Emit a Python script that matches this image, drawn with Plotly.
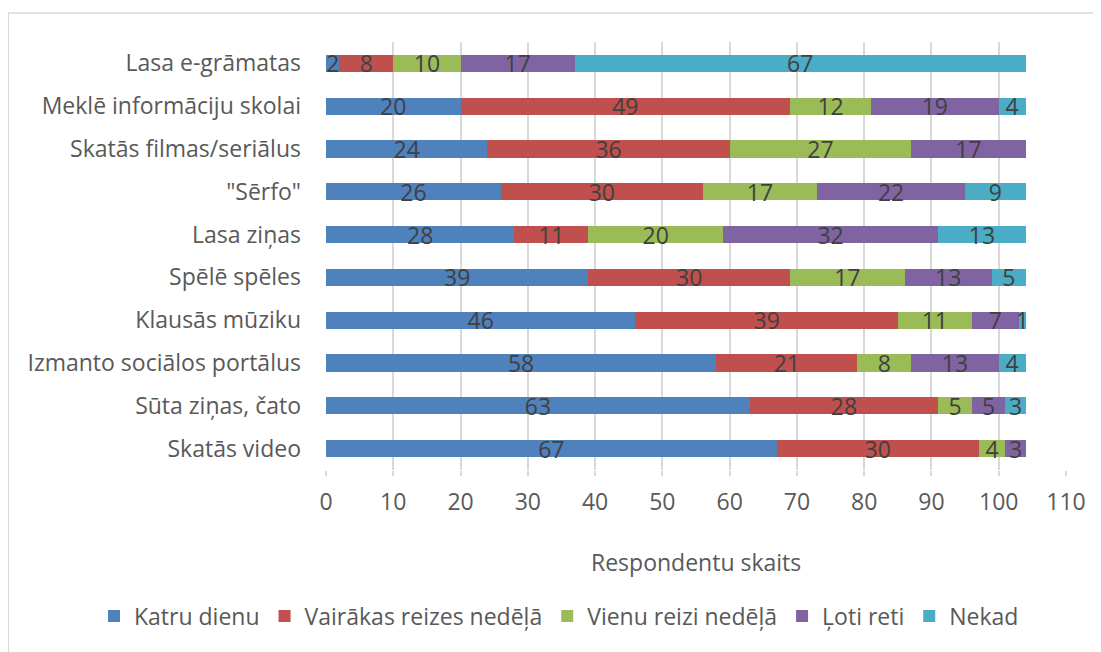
import plotly.graph_objects as go

categories = ["Lasa e-grāmatas", "Meklē informāciju skolai", "Skatās filmas/seriālus",
              "\"Sērfo\"", "Lasa ziņas", "Spēlē spēles", "Klausās mūziku",
              "Izmanto sociālos portālus", "Sūta ziņas, čato", "Skatās video"]
series_names = ["Katru dienu", "Vairākas reizes nedēļā", "Vienu reizi nedēļā", "Ļoti reti", "Nekad"]
katru_dienu = [2, 20, 24, 26, 28, 39, 46, 58, 63, 67]
vairakas_reizes = [8, 49, 36, 30, 11, 30, 39, 21, 28, 30]
vienu_reizi = [10, 12, 27, 17, 20, 17, 11, 8, 5, 4]
loti_reti = [17, 19, 17, 22, 32, 13, 7, 13, 5, 3]
nekad = [67, 4, 0, 9, 13, 5, 1, 4, 3, 0]
x_ticks = [0, 10, 20, 30, 40, 50, 60, 70, 80, 90, 100, 110]

colors = ["#4F81BD", "#C0504D", "#9BBB59", "#8064A2", "#4BACC6"]
values = [katru_dienu, vairakas_reizes, vienu_reizi, loti_reti, nekad]

FONT = "Open Sans"
FS = 23

fig = go.Figure()
for name, vals, col in zip(series_names, values, colors):
    fig.add_trace(go.Bar(
        y=categories, x=vals, name=name, orientation="h",
        marker=dict(color=col, line=dict(width=0)),
        text=[str(v) if v else "" for v in vals],
        textposition="inside", insidetextanchor="middle", textangle=0,
        textfont=dict(family=FONT, size=FS, color="#404040"),
        constraintext="none",
    ))

# page body offset of 8px is compensated for
OFF = 8
W, H = 1101, 652
L = 326 - OFF
T = 41.5 - OFF
R = W - (1066 - OFF)
B = H - (470.5 - OFF)
pw = W - L - R
ph = H - T - B

def px_x(p):
    return (p - OFF - L) / pw

def px_y(p):
    return (H - B - (p - OFF)) / ph

fig.update_layout(
    width=W, height=H,
    barmode="stack", bargap=0.6,
    margin=dict(l=L, r=R, t=T, b=B, autoexpand=False),
    paper_bgcolor="white", plot_bgcolor="white",
    font=dict(family=FONT, size=FS, color="#595959"),
    uniformtext=dict(minsize=FS, mode="show"),
    showlegend=True,
    legend=dict(orientation="h", x=px_x(94), xanchor="left", y=px_y(617), yanchor="middle",
                font=dict(family=FONT, size=FS, color="#595959"), traceorder="normal",
                itemwidth=30, bgcolor="rgba(0,0,0,0)"),
    xaxis=dict(range=[0, 110], tickvals=x_ticks, showgrid=True, gridcolor="#D9D9D9", gridwidth=1.5,
               zeroline=False, showline=False, ticks="outside", ticklen=5, tickcolor="#D9D9D9",
               tickwidth=1.5, ticklabelstandoff=6,
               tickfont=dict(family=FONT, size=FS, color="#595959")),
    yaxis=dict(autorange="reversed", showgrid=False, showline=False, ticks="",
               ticklabelstandoff=24, tickfont=dict(family=FONT, size=FS, color="#595959")),
    annotations=[
        dict(text="Respondentu skaits", xref="paper", yref="paper", x=0.5, y=px_y(563),
             xanchor="center", yanchor="middle", showarrow=False,
             font=dict(family=FONT, size=FS, color="#595959")),
    ],
    shapes=[
        dict(type="line", xref="paper", yref="paper", x0=px_x(8), x1=px_x(1101), y0=px_y(12.5), y1=px_y(12.5),
             line=dict(color="#D9D9D9", width=1.5)),
        dict(type="line", xref="paper", yref="paper", x0=px_x(8), x1=px_x(8), y0=px_y(12.5), y1=px_y(660),
             line=dict(color="#D9D9D9", width=2)),
    ],
)

fig.write_html("out.html")
